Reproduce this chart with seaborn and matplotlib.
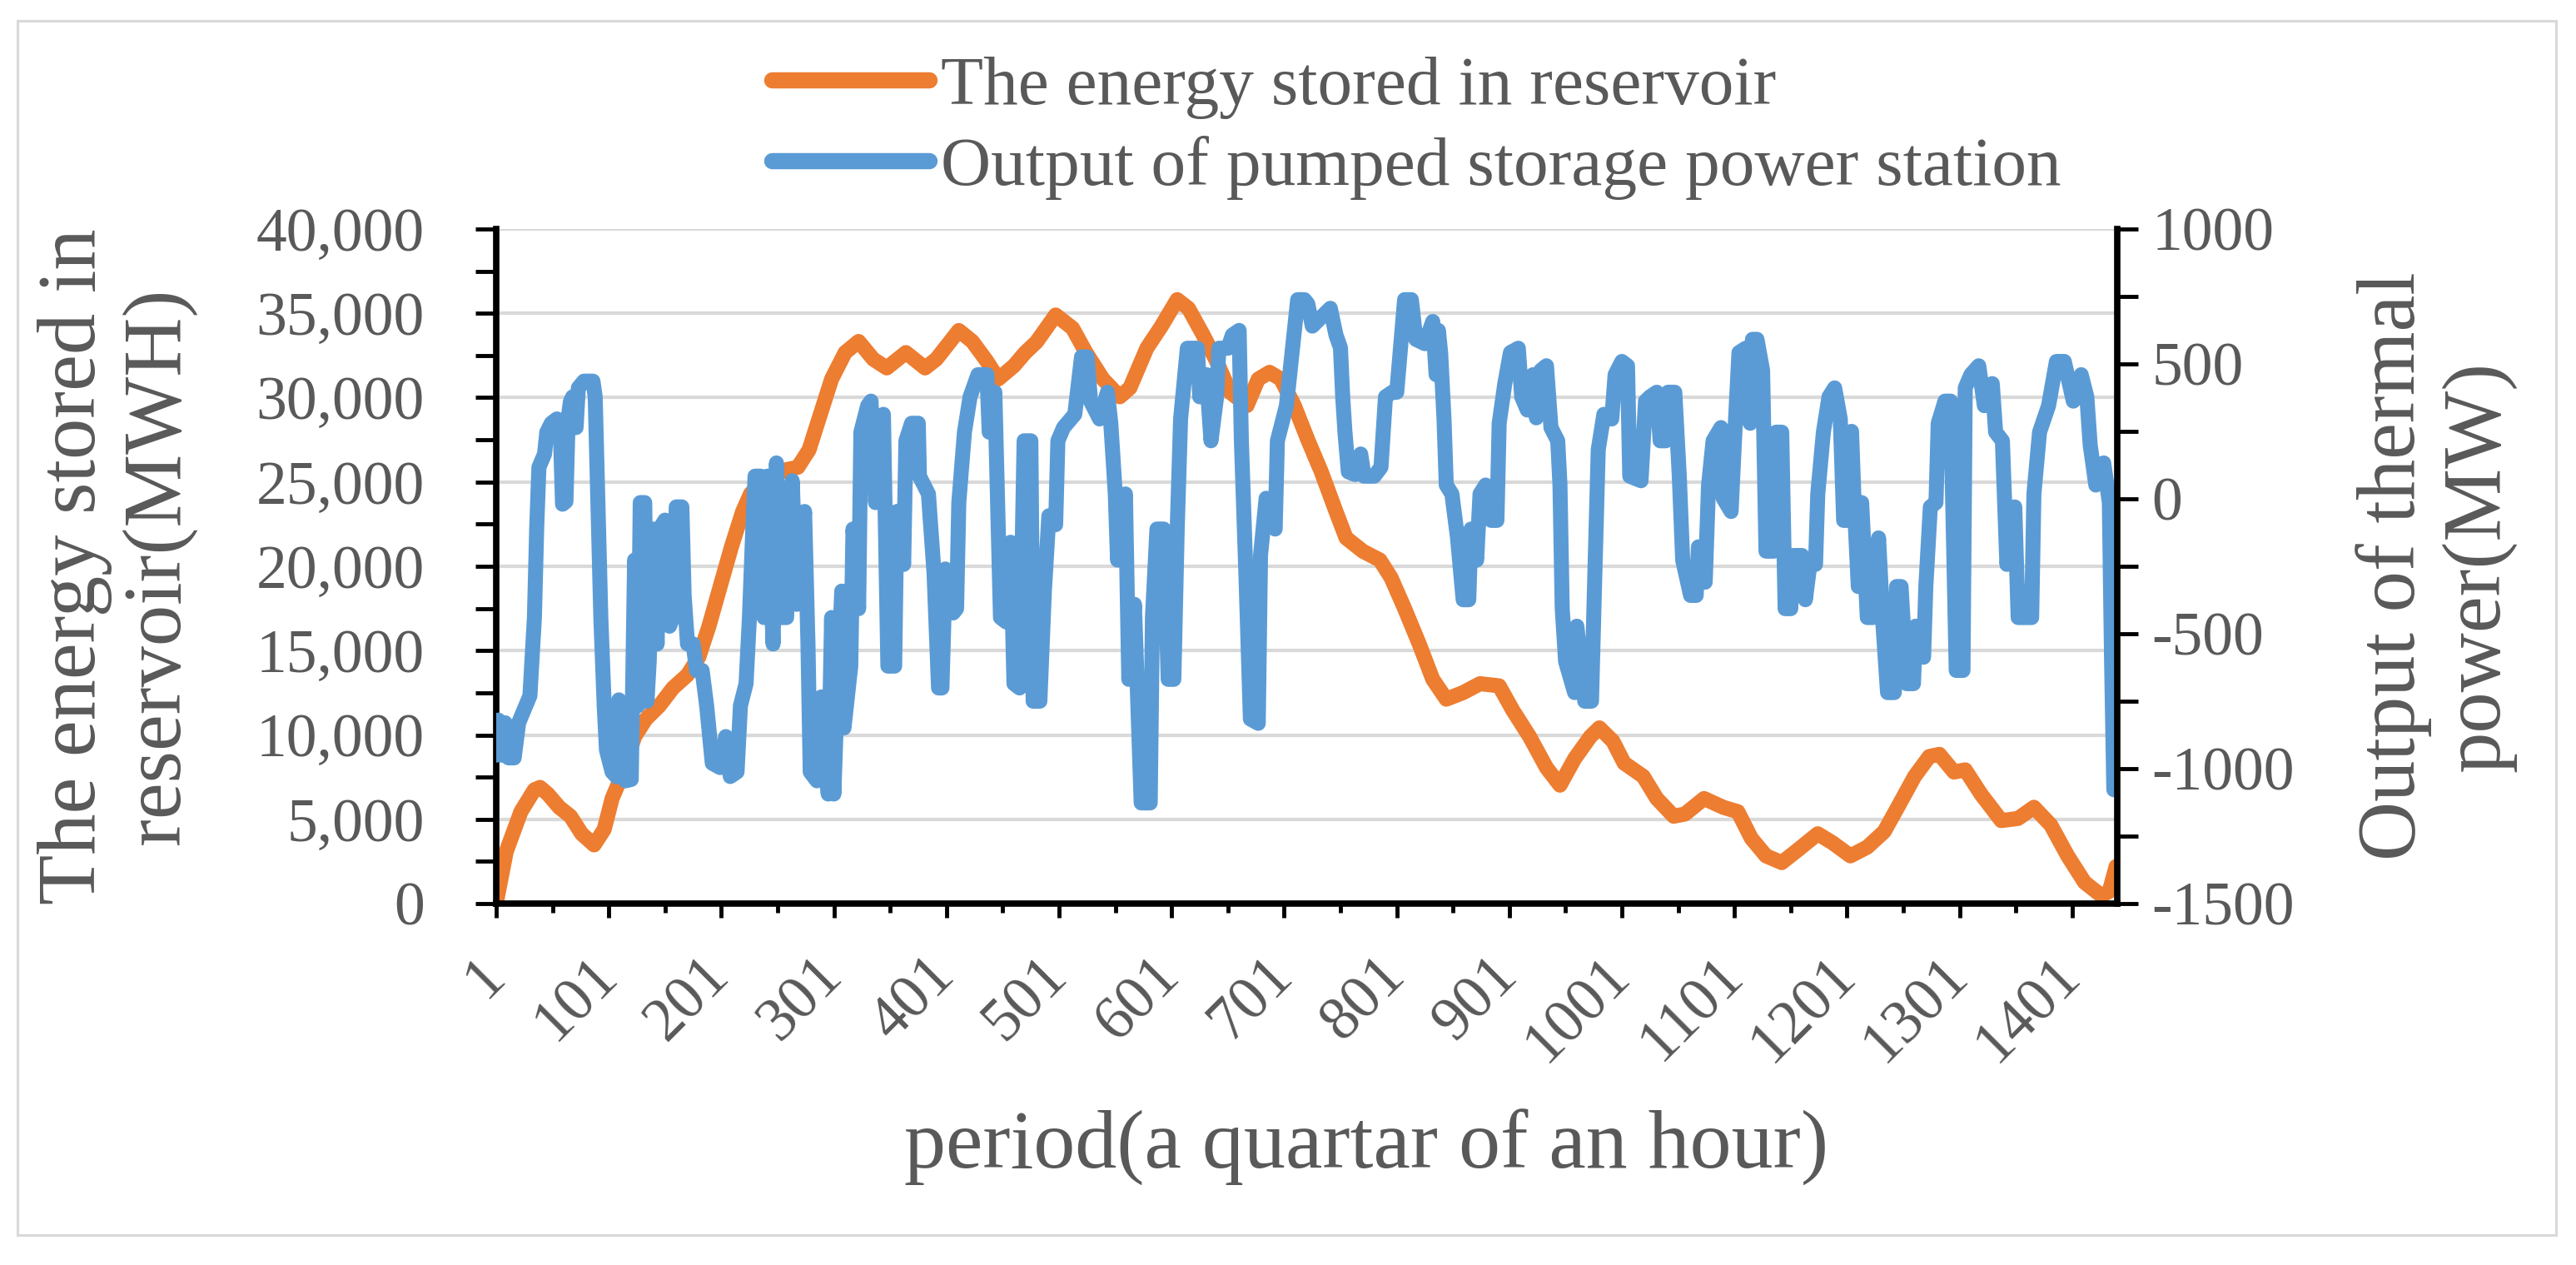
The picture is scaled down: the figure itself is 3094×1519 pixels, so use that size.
import matplotlib
matplotlib.use("Agg")
import matplotlib.pyplot as plt
import seaborn as sns
from matplotlib.ticker import FixedLocator, MultipleLocator, FuncFormatter
from matplotlib.lines import Line2D
from matplotlib.patches import Rectangle

# Excel office palette
ORANGE = "#ED7D31"
BLUE = "#5B9BD5"
TEXT_GREY = "#595959"
GRID_GREY = "#D9D9D9"

series_names = ["The energy stored in reservoir", "Output of pumped storage power station"]
x_label = "period(a quartar of an hour)"
left_label = "The energy stored in\nreservoir(MWH)"
right_label = "Output of thermal\npower(MW)"

x_tick_values = list(range(1, 1402, 100))
x_minor_values = list(range(51, 1452, 100))
left_tick_values = list(range(0, 40001, 5000))
right_tick_values = list(range(-1500, 1001, 500))

# energy stored in reservoir (MWH), left axis
reservoir_period = [1, 10, 23, 35, 40, 47, 57, 67, 77, 88, 97, 104, 114, 124, 134, 146, 158, 171, 181, 190,
                    200, 210, 220, 227, 239, 259, 269, 279, 289, 299, 311, 323, 336, 348, 365, 382, 392, 412,
                    424, 437, 447, 461, 471, 481, 498, 513, 525, 540, 555, 564, 579, 592, 606, 616, 629, 641,
                    653, 668, 678, 688, 698, 710, 722, 734, 747, 756, 771, 786, 796, 808, 821, 833, 845, 860,
                    875, 892, 904, 919, 934, 946, 959, 973, 981, 993, 1003, 1020, 1032, 1047, 1057, 1074,
                    1091, 1104, 1116, 1129, 1143, 1158, 1175, 1188, 1204, 1219, 1234, 1246, 1261, 1274, 1283,
                    1296, 1306, 1320, 1338, 1353, 1367, 1382, 1397, 1412, 1427, 1434, 1440]
reservoir_mwh = [0, 3090, 5450, 6750, 6890, 6490, 5710, 5180, 4140, 3480, 4400, 6230, 7800, 9900, 10940,
                 11730, 12780, 13560, 14610, 16440, 18800, 21150, 23250, 24300, 25080, 25730, 25870, 26910,
                 29010, 31100, 32670, 33330, 32280, 31760, 32670, 31760, 32280, 33980, 33330, 32150, 31100,
                 31890, 32670, 33300, 34900, 34120, 32670, 31100, 30050, 30580, 32930, 34240, 35810, 35290,
                 33720, 32150, 30320, 29530, 31100, 31500, 31100, 29530, 27500, 25600, 23250, 21680, 20890,
                 20370, 19320, 17490, 15390, 13300, 12120, 12510, 13040, 12910, 11470, 9900, 8060, 7020,
                 8590, 9900, 10420, 9630, 8330, 7540, 6230, 5180, 5310, 6230, 5710, 5450, 3870, 2830, 2430,
                 3220, 4140, 3610, 2830, 3350, 4270, 5710, 7540, 8720, 8850, 7800, 7930, 6490, 4920, 5050,
                 5710, 4660, 2830, 1260, 470, 730, 2200]

# output of pumped storage power station (MW), right axis
pumped_period = [1, 3, 6, 9, 12, 17, 21, 24, 28, 31, 35, 37, 39, 44, 46, 50, 55, 58, 60, 63, 65, 67, 69, 72,
                 74, 79, 87, 89, 92, 94, 97, 99, 104, 108, 110, 113, 116, 121, 124, 127, 129, 133, 135, 137,
                 140, 144, 146, 151, 155, 158, 161, 166, 168, 171, 176, 179, 184, 188, 193, 200, 205, 209,
                 215, 218, 223, 226, 229, 231, 236, 239, 242, 247, 250, 254, 259, 264, 268, 275, 278, 280,
                 286, 290, 294, 296, 299, 301, 303, 308, 310, 316, 318, 323, 325, 331, 334, 338, 345, 349,
                 355, 357, 363, 365, 370, 376, 377, 385, 390, 394, 397, 400, 407, 410, 412, 417, 422, 429,
                 437, 439, 444, 449, 454, 458, 461, 466, 470, 476, 478, 484, 488, 492, 498, 500, 505, 515,
                 521, 526, 529, 537, 544, 547, 551, 553, 560, 563, 568, 574, 582, 584, 588, 594, 598, 603,
                 606, 609, 615, 624, 626, 632, 636, 641, 643, 651, 655, 661, 663, 667, 671, 678, 680, 685,
                 693, 695, 703, 708, 713, 719, 722, 726, 734, 742, 747, 751, 753, 755, 758, 764, 769, 772,
                 781, 787, 791, 797, 801, 808, 814, 818, 826, 833, 836, 838, 840, 843, 845, 850, 855, 860,
                 865, 867, 872, 875, 880, 885, 890, 892, 897, 902, 909, 912, 917, 922, 925, 929, 934, 938,
                 944, 946, 948, 951, 959, 961, 968, 974, 977, 980, 985, 992, 995, 1001, 1006, 1008, 1018,
                 1022, 1026, 1032, 1035, 1040, 1042, 1048, 1052, 1055, 1062, 1067, 1069, 1075, 1078, 1082,
                 1089, 1091, 1098, 1101, 1105, 1111, 1115, 1117, 1121, 1126, 1129, 1136, 1138, 1143, 1146,
                 1151, 1153, 1161, 1164, 1168, 1173, 1175, 1180, 1185, 1190, 1195, 1198, 1203, 1205, 1207,
                 1211, 1214, 1219, 1224, 1229, 1233, 1237, 1243, 1245, 1249, 1254, 1260, 1262, 1269, 1271,
                 1275, 1280, 1282, 1288, 1293, 1298, 1304, 1306, 1311, 1318, 1323, 1330, 1333, 1339, 1343,
                 1350, 1353, 1365, 1367, 1372, 1380, 1387, 1394, 1402, 1409, 1414, 1417, 1422, 1429, 1434,
                 1436, 1438, 1440]
pumped_mw = [-950, -820, -950, -830, -960, -960, -830, -800, -760, -730, -440, -112, 117, 166, 247, 280, 296,
             250, -20, -10, 300, 361, 378, 264, 411, 436, 436, 378, -112, -440, -767, -931, -1012, -1030, -745,
             -760, -1045, -1040, -227, -767, -14, -14, -750, -600, -112, -538, -112, -79, -472, -440, -30, -30,
             -358, -538, -538, -636, -636, -767, -980, -996, -881, -1029, -1012, -767, -685, -440, -112, 84,
             84, -440, 84, -538, 133, -440, -440, 67, -391, -47, -538, -1012, -1045, -734, -1000, -1094, -440,
             -1094, -849, -342, -849, -620, -112, -407, 247, 345, 362, -14, 313, -620, -620, -47, -243, 215,
             280, 280, 84, 18, -276, -701, -701, -260, -423, -407, -14, 247, 378, 460, 460, 247, 395, -440,
             -456, -161, -685, -701, 215, 215, -750, -750, -342, -63, -96, 215, 264, 313, 526, 526, 362, 296,
             395, 280, 18, -227, 18, -669, -391, -1127, -1127, -440, -112, -112, -669, -669, -112, 296, 558,
             558, 378, 460, 215, 378, 558, 558, 607, 624, 215, -276, -816, -832, -210, 2, -112, 215, 345, 542,
             738, 738, 722, 640, 673, 706, 607, 560, 378, 247, 100, 90, 166, 84, 84, 117, 378, 395, 395, 738,
             738, 591, 575, 657, 460, 624, 542, 296, 51, 18, -145, -374, -374, -112, -227, 18, 51, -80, -80,
             280, 427, 542, 558, 378, 329, 460, 300, 476, 493, 264, 215, 51, -407, -603, -718, -472, -750,
             -750, -276, 182, 313, 296, 460, 509, 493, 84, 67, 362, 378, 395, 215, 215, 395, 395, 84, -227,
             -358, -358, -178, -309, 51, 215, 264, 2, -47, 215, 542, 558, 280, 591, 591, 476, -194, -194, 247,
             247, -407, -407, -210, -210, -374, -243, -243, 18, 247, 378, 411, 296, -80, -80, 250, 18, -325,
             -14, -440, -440, -145, -472, -718, -718, -325, -325, -685, -685, -472, -587, -325, -30, -14, 280,
             362, 362, -636, -636, 411, 460, 493, 345, 427, 247, 215, -243, -30, -440, -440, 18, 247, 345, 509,
             509, 362, 460, 378, 199, 51, 133, -14, -603, -1078, -1078]

sns.set_theme(style="white")
plt.rcParams["font.family"] = ["Liberation Serif", "DejaVu Serif"]

fig = plt.figure(figsize=(30.94, 15.19), dpi=100)
ax = fig.add_axes([0.1926, 0.2857, 0.6293, 0.5333])

sns.lineplot(x=reservoir_period, y=reservoir_mwh, ax=ax, color=ORANGE,
             estimator=None, sort=False)
ax2 = ax.twinx()
sns.lineplot(x=pumped_period, y=pumped_mw, ax=ax2, color=BLUE,
             estimator=None, sort=False)

# thick Excel-style strokes with round ends
for line in ax.get_lines() + ax2.get_lines():
    line.set_linewidth(13)
    line.set_solid_capstyle("round")
    line.set_solid_joinstyle("round")

ax.set_xlim(1, 1441)
ax.set_ylim(0, 40000)
ax2.set_ylim(-1500, 1000)

# x axis
ax.set_xticks(x_tick_values, labels=[str(v) for v in x_tick_values],
              rotation=45, ha="right", va="center", rotation_mode="anchor")
ax.xaxis.set_minor_locator(FixedLocator(x_minor_values))
ax.tick_params(axis="x", which="major", bottom=True, direction="out", length=12, width=3.5,
               color="black", pad=43, labelsize=53, labelcolor=TEXT_GREY)
ax.tick_params(axis="x", which="minor", bottom=True, direction="out", length=8, width=3.5, color="black")

# left axis
ax.set_yticks(left_tick_values)
ax.yaxis.set_major_formatter(FuncFormatter(lambda v, p: f"{int(v):,}"))
ax.yaxis.set_minor_locator(MultipleLocator(2500))
ax.tick_params(axis="y", which="both", left=True, direction="out", length=18, width=3.5,
               color="black", pad=44, labelsize=53, labelcolor=TEXT_GREY)

# right axis
ax2.set_yticks(right_tick_values)
ax2.yaxis.set_major_formatter(FuncFormatter(lambda v, p: str(int(v))))
ax2.yaxis.set_minor_locator(MultipleLocator(250))
ax2.tick_params(axis="y", which="both", right=True, direction="out", length=18, width=3.5,
                color="black", pad=12, labelsize=53, labelcolor=TEXT_GREY)

ax.yaxis.grid(True, which="major", color=GRID_GREY, linewidth=3)
ax.xaxis.grid(False)
ax.set_axisbelow(True)

for s in ["top", "right"]:
    ax.spines[s].set_visible(False)
for s in ["top", "left", "bottom"]:
    ax2.spines[s].set_visible(False)
for sp in [ax.spines["left"], ax.spines["bottom"], ax2.spines["right"]]:
    sp.set_color("black")
    sp.set_linewidth(5.5)

# axis titles
ax.set_xlabel(x_label, fontsize=72, color=TEXT_GREY)
ax.xaxis.set_label_coords(0.537, -0.3926)
ax.xaxis.label.set_va("baseline")
ax.set_ylabel(left_label, fontsize=71, color=TEXT_GREY, linespacing=1.15)
ax.yaxis.set_label_coords(-0.2337, 0.5)
ax.yaxis.label.set_va("center")
ax2.set_ylabel(right_label, fontsize=71, color=TEXT_GREY, linespacing=1.15, rotation=90)
ax2.yaxis.set_label_coords(1.1967, 0.5)
ax2.yaxis.label.set_va("center")

handles = [Line2D([0], [0], color=ORANGE, lw=14, solid_capstyle="round"),
           Line2D([0], [0], color=BLUE, lw=14, solid_capstyle="round")]
fig.legend(handles, series_names, loc="upper left", bbox_to_anchor=(0.2996, 0.956),
           frameon=False, fontsize=60, labelcolor=TEXT_GREY, handlelength=2.27,
           handletextpad=0.17, labelspacing=0.24, borderpad=0, borderaxespad=0)

# chart area border
fig.add_artist(Rectangle((0.0068, 0.0237), 0.9854, 0.9598, transform=fig.transFigure,
                         fill=False, edgecolor=GRID_GREY, linewidth=2.2))

fig.savefig("out.png", dpi=100, facecolor="white")
print("saved out.png")
